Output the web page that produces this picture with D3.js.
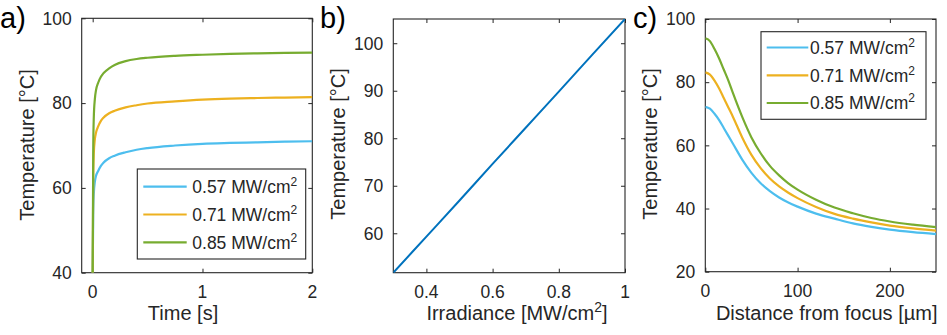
<!DOCTYPE html>
<html>
<head>
<meta charset="utf-8">
<script src="https://cdn.jsdelivr.net/npm/d3@7"></script>
<style>
  html, body { margin: 0; padding: 0; background: #fff; }
  svg { display: block; font-family: "Liberation Sans", Arial, Helvetica, sans-serif; }
</style>
</head>
<body>
<svg id="fig" width="947" height="335"></svg>
<script>
// ---- data ----
const irradianceLabels = ["0.57", "0.71", "0.85"];
const seriesColors = ["#4DBEEE", "#EDB120", "#77AC30"];

// (a) temperature vs time
const timeS = [0, 0.005, 0.01, 0.02, 0.03, 0.05, 0.075, 0.1, 0.15, 0.2, 0.3, 0.4, 0.5, 0.75, 1, 1.25, 1.5, 1.75, 2];
const tempTime057 = [40, 54, 58.5, 61.5, 62.8, 64, 65.2, 66, 67, 67.6, 68.4, 69, 69.4, 70, 70.4, 70.6, 70.75, 70.9, 71.0];
const tempTime071 = [40, 62, 68, 71.5, 73, 74.5, 75.8, 76.6, 77.6, 78.2, 79, 79.5, 79.9, 80.4, 80.8, 81.05, 81.2, 81.3, 81.4];
const tempTime085 = [40, 69, 76.5, 81, 83, 84.8, 86.2, 87.1, 88.2, 89, 89.9, 90.4, 90.7, 91.15, 91.4, 91.6, 91.75, 91.85, 91.9];

// (b) peak temperature vs irradiance
const irradiance = [0.3, 0.4, 0.5, 0.6, 0.7, 0.8, 0.9, 1.0];
const tempIrr = [51.7, 59.3, 66.9, 74.6, 82.2, 89.8, 97.5, 105.1];

// (c) temperature vs distance from focus
const distUm = [0, 5, 10, 15, 20, 25, 30, 40, 50, 60, 70, 80, 90, 100, 120, 140, 160, 180, 200, 225, 250];
const tempDist057 = [72.2, 71.6, 70, 68, 65.5, 63, 60.5, 55.5, 51.3, 48, 45.5, 43.5, 41.9, 40.6, 38.4, 36.8, 35.3, 34.2, 33.3, 32.5, 31.9];
const tempDist071 = [83.1, 82.4, 80.5, 78, 75, 72, 69, 62.5, 57, 52.8, 49.5, 47, 45, 43.3, 40.5, 38.3, 36.8, 35.6, 34.6, 33.7, 33.0];
const tempDist085 = [93.9, 93, 90.5, 87.5, 84, 80.5, 76.5, 69, 62.5, 57.5, 53.5, 50.5, 48, 46, 42.8, 40.3, 38.5, 37, 35.9, 34.9, 34.1];

// ---- drawing ----
const svg = d3.select("#fig");
const axisColor = "#262626";
const tickFont = 17.5, labelFont = 20;

function panel(opt) {
  const g = svg.append("g");
  const x = d3.scaleLinear().domain(opt.xDomain).range([opt.left, opt.right]);
  const y = d3.scaleLinear().domain(opt.yDomain).range([opt.bottom, opt.top]);
  const clipId = "clip-" + opt.name;
  svg.append("clipPath").attr("id", clipId).append("rect")
    .attr("x", opt.left).attr("y", opt.top)
    .attr("width", opt.right - opt.left).attr("height", opt.bottom - opt.top);

  // axes: ticks inward on all four sides (boxed axes)
  const tl = 4;
  const axes = [
    { ax: d3.axisBottom(x).tickValues(opt.xTicks).tickSize(tl), tr: `translate(0,${opt.bottom}) scale(1,-1)` },
    { ax: d3.axisTop(x).tickValues(opt.xTicks).tickSize(tl), tr: `translate(0,${opt.top}) scale(1,-1)` },
    { ax: d3.axisLeft(y).tickValues(opt.yTicks).tickSize(tl), tr: `translate(${opt.left},0) scale(-1,1)` },
    { ax: d3.axisRight(y).tickValues(opt.yTicks).tickSize(tl), tr: `translate(${opt.right},0) scale(-1,1)` }
  ];
  axes.forEach(a => {
    const ag = g.append("g").attr("transform", a.tr).call(a.ax);
    ag.selectAll("text").remove();
    ag.select(".domain").remove();
    ag.selectAll("line").attr("stroke", axisColor).attr("stroke-width", 1);
  });
  g.append("rect").attr("x", opt.left).attr("y", opt.top)
    .attr("width", opt.right - opt.left).attr("height", opt.bottom - opt.top)
    .attr("fill", "none").attr("stroke", axisColor).attr("stroke-width", 1.1);

  // tick labels
  const fmt = d3.format("~g");
  g.selectAll(".xt").data(opt.xTicks).join("text")
    .attr("x", d => x(d)).attr("y", opt.bottom + 25)
    .attr("text-anchor", "middle").attr("font-size", tickFont).attr("fill", axisColor)
    .text(d => fmt(d));
  g.selectAll(".yt").data(opt.yTicks).join("text")
    .attr("x", opt.left - 10).attr("y", d => y(d)).attr("dy", "0.36em")
    .attr("text-anchor", "end").attr("font-size", tickFont).attr("fill", axisColor)
    .text(d => fmt(d));

  // axis titles
  g.append("text")
    .attr("transform", `translate(${opt.yLabelX},${opt.yLabelY}) rotate(-90)`)
    .attr("text-anchor", "middle").attr("font-size", labelFont).attr("fill", axisColor)
    .text("Temperature [°C]");
  const xl = g.append("text").attr("x", opt.xLabelX).attr("y", opt.xLabelY)
    .attr("text-anchor", "middle").attr("font-size", labelFont).attr("fill", axisColor);
  opt.xLabel(xl);

  // panel letter
  g.append("text").attr("x", opt.letterX).attr("y", 28)
    .attr("font-size", 29).attr("fill", "#000").text(opt.letter);

  // lines
  const line = d3.line().x(d => x(d[0])).y(d => y(d[1])).curve(d3.curveMonotoneX);
  const lg = g.append("g").attr("clip-path", `url(#${clipId})`);
  opt.series.forEach(s => {
    lg.append("path").datum(s.xs.map((v, i) => [v, s.ys[i]]))
      .attr("d", line).attr("fill", "none").attr("stroke", s.color)
      .attr("stroke-width", opt.lineWidth).attr("stroke-linejoin", "round");
  });

  // legend
  if (opt.legend) {
    const L = opt.legend;
    g.append("rect").attr("x", L.x0).attr("y", L.y0)
      .attr("width", L.x1 - L.x0).attr("height", L.y1 - L.y0)
      .attr("fill", "#fff").attr("stroke", axisColor).attr("stroke-width", 1.1);
    opt.series.forEach((s, i) => {
      const cy = L.rows[i];
      g.append("line").attr("x1", L.lx0).attr("x2", L.lx1).attr("y1", cy).attr("y2", cy)
        .attr("stroke", s.color).attr("stroke-width", opt.lineWidth);
      const t = g.append("text").attr("x", L.tx).attr("y", cy).attr("dy", "0.36em")
        .attr("font-size", tickFont).attr("fill", axisColor);
      t.append("tspan").text(irradianceLabels[i] + " MW/cm");
      t.append("tspan").attr("font-size", 12).attr("dy", -7).text("2");
    });
  }
}

panel({
  name: "a", letter: "a)", letterX: 0,
  left: 81.7, right: 312.3, top: 18.3, bottom: 272.7,
  xDomain: [-0.1, 2], yDomain: [40, 100],
  xTicks: [0, 1, 2], yTicks: [40, 60, 80, 100],
  yLabelX: 34, yLabelY: 145,
  xLabelX: 183, xLabelY: 320,
  xLabel: t => t.text("Time [s]"),
  lineWidth: 2.2,
  series: [
    { xs: timeS, ys: tempTime057, color: seriesColors[0] },
    { xs: timeS, ys: tempTime071, color: seriesColors[1] },
    { xs: timeS, ys: tempTime085, color: seriesColors[2] }
  ],
  legend: { x0: 137.3, x1: 305.7, y0: 169, y1: 259, rows: [186.7, 214.5, 242.3], lx0: 143.3, lx1: 186.7, tx: 192.3 }
});

panel({
  name: "b", letter: "b)", letterX: 320,
  left: 393.3, right: 625, top: 19, bottom: 272.7,
  xDomain: [0.3, 1], yDomain: [51.7, 105.1],
  xTicks: [0.4, 0.6, 0.8, 1], yTicks: [60, 70, 80, 90, 100],
  yLabelX: 345, yLabelY: 144,
  xLabelX: 517, xLabelY: 320,
  xLabel: t => {
    t.append("tspan").text("Irradiance [MW/cm");
    t.append("tspan").attr("font-size", 14).attr("dy", -8).text("2");
    t.append("tspan").attr("dy", 8).text("]");
  },
  lineWidth: 2,
  series: [ { xs: irradiance, ys: tempIrr, color: "#0072BD" } ]
});

panel({
  name: "c", letter: "c)", letterX: 633,
  left: 705.3, right: 936, top: 19, bottom: 271.7,
  xDomain: [0, 250], yDomain: [20, 100],
  xTicks: [0, 100, 200], yTicks: [20, 40, 60, 80, 100],
  yLabelX: 657, yLabelY: 144,
  xLabelX: 826.7, xLabelY: 320,
  xLabel: t => t.text("Distance from focus [µm]"),
  lineWidth: 2.2,
  series: [
    { xs: distUm, ys: tempDist057, color: seriesColors[0] },
    { xs: distUm, ys: tempDist071, color: seriesColors[1] },
    { xs: distUm, ys: tempDist085, color: seriesColors[2] }
  ],
  legend: { x0: 761, x1: 926, y0: 31.7, y1: 119.3, rows: [47.5, 75.3, 103], lx0: 766.7, lx1: 808.3, tx: 810 }
});
</script>
</body>
</html>
